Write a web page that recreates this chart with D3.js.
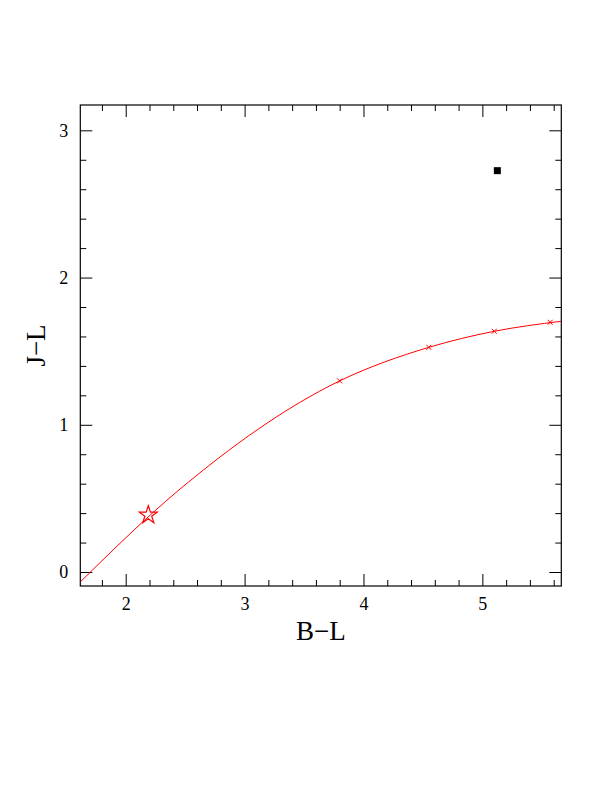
<!DOCTYPE html>
<html>
<head>
<meta charset="utf-8">
<script src="https://cdn.jsdelivr.net/npm/d3@7"></script>
<style>
  html, body { margin: 0; padding: 0; background: #fff; }
  svg { display: block; }
  text { font-family: "Liberation Serif", "DejaVu Serif", serif; fill: #000; }
</style>
</head>
<body>
<svg id="chart" width="612" height="792"></svg>
<script>
// ---- data ----
const curveX = [1.62, 2.44, 3.8, 4.55, 5.1, 5.664];
const curveY = [-0.066, 0.552, 1.298, 1.526, 1.635, 1.703];
const markerX = [3.8, 4.55, 5.1, 5.57];
const markerY = [1.298, 1.526, 1.635, 1.696];
const starX = [2.19];
const starY = [0.387];
const squareX = [5.126];
const squareY = [2.726];
const xMajorTicks = [2, 3, 4, 5];
const yMajorTicks = [0, 1, 2, 3];
const xDomain = [1.618, 5.664];
const yDomain = [-0.095, 3.172];
const xTitle = "B\u2212L";
const yTitle = "J\u2212L";

// ---- layout ----
const L = 80.3, R = 561.3, T = 105, B = 586;
const svg = d3.select("#chart");
const x = d3.scaleLinear().domain(xDomain).range([L, R]);
const y = d3.scaleLinear().domain(yDomain).range([B, T]);

const xMinor = d3.range(0, 40).map(i => i * 0.2).filter(v => v > xDomain[0] && v < xDomain[1] && Math.abs(v - Math.round(v)) > 1e-6);
const yMinor = d3.range(-5, 40).map(i => i * 0.2).filter(v => v > yDomain[0] && v < yDomain[1] && Math.abs(v - Math.round(v)) > 1e-6);

function styleAxis(g) {
  g.select(".domain").remove();
  g.selectAll("line").attr("stroke", "#000").attr("stroke-width", 1);
  g.selectAll("text").attr("font-family", '"Liberation Serif", "DejaVu Serif", serif').attr("font-size", 18).attr("fill", "#000");
}

// bottom axis (labels)
svg.append("g").attr("transform", `translate(0,${B})`)
  .call(d3.axisBottom(x).tickValues(xMajorTicks).tickSize(-12).tickPadding(11.2).tickFormat(d3.format("d")))
  .call(styleAxis);
svg.append("g").attr("transform", `translate(0,${B})`)
  .call(d3.axisBottom(x).tickValues(xMinor).tickSize(-6).tickFormat(""))
  .call(styleAxis);
// top axis
svg.append("g").attr("transform", `translate(0,${T})`)
  .call(d3.axisTop(x).tickValues(xMajorTicks).tickSize(-12).tickFormat(""))
  .call(styleAxis);
svg.append("g").attr("transform", `translate(0,${T})`)
  .call(d3.axisTop(x).tickValues(xMinor).tickSize(-6).tickFormat(""))
  .call(styleAxis);
// left axis
svg.append("g").attr("transform", `translate(${L},0)`)
  .call(d3.axisLeft(y).tickValues(yMajorTicks).tickSize(-12).tickPadding(12).tickFormat(d3.format("d")))
  .call(styleAxis);
svg.append("g").attr("transform", `translate(${L},0)`)
  .call(d3.axisLeft(y).tickValues(yMinor).tickSize(-6).tickFormat(""))
  .call(styleAxis);
// right axis
svg.append("g").attr("transform", `translate(${R},0)`)
  .call(d3.axisRight(y).tickValues(yMajorTicks).tickSize(-12).tickFormat(""))
  .call(styleAxis);
svg.append("g").attr("transform", `translate(${R},0)`)
  .call(d3.axisRight(y).tickValues(yMinor).tickSize(-6).tickFormat(""))
  .call(styleAxis);

// frame
svg.append("rect").attr("x", L).attr("y", T).attr("width", R - L).attr("height", B - T)
  .attr("fill", "none").attr("stroke", "#000").attr("stroke-width", 1.2);

// clip
svg.append("clipPath").attr("id", "clip").append("rect")
  .attr("x", L).attr("y", T).attr("width", R - L).attr("height", B - T);

const plot = svg.append("g").attr("clip-path", "url(#clip)");

// curve
const pts = curveX.map((v, i) => [v, curveY[i]]);
plot.append("path")
  .attr("d", d3.line().x(d => x(d[0])).y(d => y(d[1])).curve(d3.curveMonotoneX)(pts))
  .attr("fill", "none").attr("stroke", "#ff0000").attr("stroke-width", 1);

// x markers
const mk = 2.5;
plot.selectAll(".mk").data(markerX.map((v, i) => [v, markerY[i]])).enter().append("path")
  .attr("d", d => {
    const cx = x(d[0]), cy = y(d[1]);
    return `M${cx - mk},${cy - mk}L${cx + mk},${cy + mk}M${cx - mk},${cy + mk}L${cx + mk},${cy - mk}`;
  })
  .attr("stroke", "#ff0000").attr("stroke-width", 1).attr("fill", "none");

// star
plot.selectAll(".star").data(starX.map((v, i) => [v, starY[i]])).enter().append("path")
  .attr("transform", d => `translate(${x(d[0])},${y(d[1])})`)
  .attr("d", d3.symbol(d3.symbolStar).size(100))
  .attr("fill", "none").attr("stroke", "#ff0000").attr("stroke-width", 1.2);

// square
plot.selectAll(".sq").data(squareX.map((v, i) => [v, squareY[i]])).enter().append("rect")
  .attr("x", d => x(d[0]) - 3.5).attr("y", d => y(d[1]) - 3.5)
  .attr("width", 7).attr("height", 7).attr("fill", "#000");

// titles
svg.append("text").attr("x", (L + R) / 2).attr("y", 640)
  .attr("text-anchor", "middle").attr("font-size", 27).text(xTitle);
svg.append("text").attr("transform", `translate(45,${(T + B) / 2}) rotate(-90)`)
  .attr("text-anchor", "middle").attr("font-size", 27).text(yTitle);
</script>
</body>
</html>
